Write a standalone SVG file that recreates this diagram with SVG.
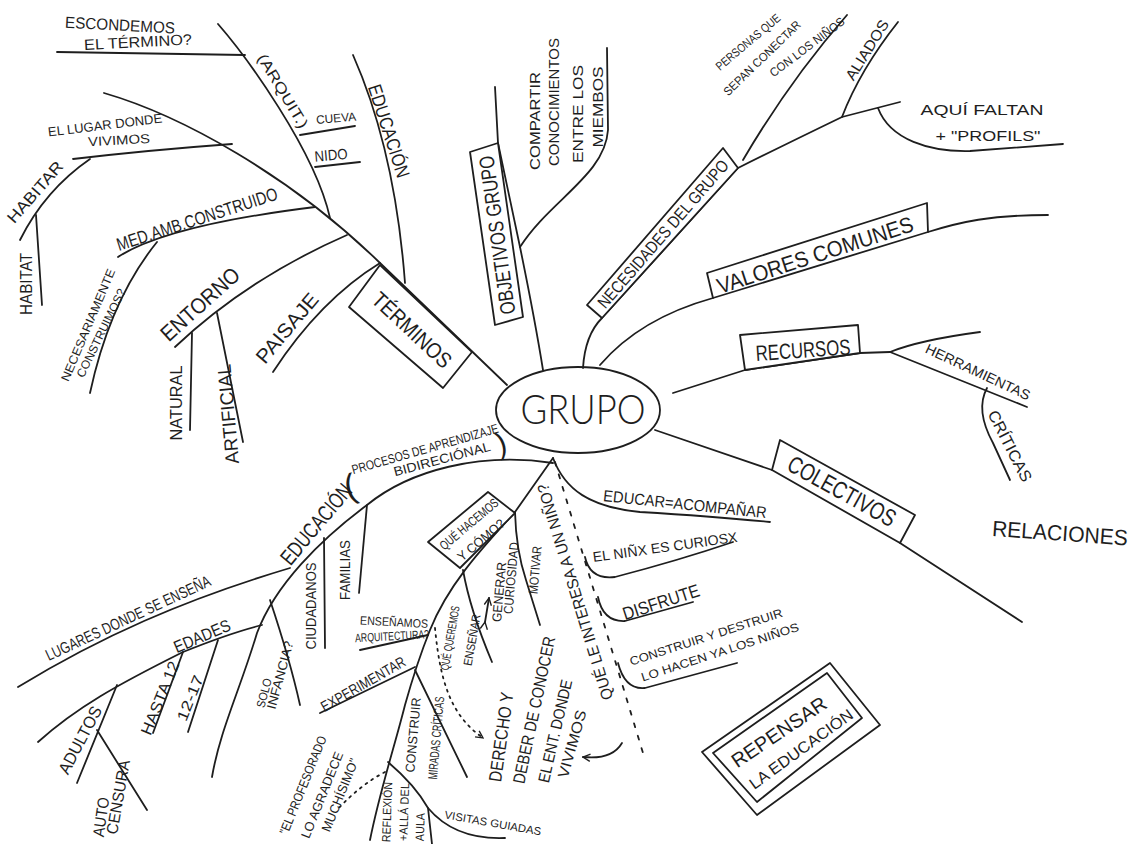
<svg xmlns="http://www.w3.org/2000/svg" width="1137" height="844" viewBox="0 0 1137 844">
<style>
.c{fill:none;stroke:#1e1e1e;stroke-width:1.8;stroke-linecap:round;stroke-linejoin:round}
.b{fill:#fff;stroke:#1e1e1e;stroke-width:1.8;stroke-linejoin:round}
.bn{fill:none;stroke:#1e1e1e;stroke-width:1.8;stroke-linejoin:round}
.d{stroke-dasharray:2 5}
.dd{stroke-dasharray:4 9}
text{font-family:"Liberation Sans","DejaVu Sans",sans-serif;fill:#1e1e1e;text-anchor:middle}
.lt{font-family:Lato,"Liberation Sans",sans-serif;font-weight:300}
</style>
<defs>
<marker id="ah" viewBox="0 0 10 10" refX="9" refY="5" markerWidth="9" markerHeight="9" orient="auto" markerUnits="userSpaceOnUse">
<path d="M1,1 L9,5 L1,9" fill="none" stroke="#1e1e1e" stroke-width="1.5"/>
</marker>
</defs>
<rect width="1137" height="844" fill="#fff"/>
<g id="connectors">
<path class="c" d="M104,93 C180,115 290,175 380,263 L507,385"/>
<path class="c" d="M218,24 C245,55 315,150 330,218"/>
<path class="c" d="M57,52 L245,55"/>
<path class="c" d="M300,135 L355,126"/>
<path class="c" d="M315,167 L360,162"/>
<path class="c" d="M73,159 Q150,150 232,144"/>
<path class="c" d="M90,159 Q45,190 20,240"/>
<path class="c" d="M36,215 L42,305"/>
<path class="c" d="M315,207 C250,215 160,230 118,257"/>
<path class="c" d="M157,242 Q110,300 90,393"/>
<path class="c" d="M347,235 C290,260 230,295 175,347"/>
<path class="c" d="M192,333 L190,430"/>
<path class="c" d="M217,313 L243,442"/>
<path class="c" d="M380,263 Q320,300 273,372"/>
<path class="c" d="M353,55 Q395,150 405,283"/>
<path class="c" d="M495,87 L498,143 L520,247 Q535,320 543,370"/>
<path class="c" d="M520,247 C550,200 605,175 608,130 L607,48"/>
<path class="c" d="M583,368 Q585,335 602,318 L738,168 Q780,147 842,117 L900,102"/>
<path class="c" d="M743,160 Q790,80 847,15"/>
<path class="c" d="M842,117 Q860,70 898,22"/>
<path class="c" d="M878,108 C890,140 930,152 970,151 L1063,144"/>
<path class="c" d="M600,365 C630,330 670,310 713,298"/>
<path class="c" d="M928,232 C960,222 990,215 1048,215"/>
<path class="c" d="M673,393 L745,370 L860,353 L890,352"/>
<path class="c" d="M890,352 Q920,340 980,332"/>
<path class="c" d="M890,352 L1027,407"/>
<path class="c" d="M987,388 Q975,410 993,443 L1010,480"/>
<path class="c" d="M655,430 L772,470"/>
<path class="c" d="M900,543 L1022,622"/>
<path class="c" d="M553,463 C480,452 410,470 367,505 C320,540 275,585 257,633 C240,690 220,730 212,777"/>
<path class="c" d="M18,687 C100,637 183,600 290,568"/>
<path class="c" d="M38,742 C77,707 117,685 183,652 Q230,633 262,625"/>
<path class="c" d="M270,600 Q290,660 300,705"/>
<path class="c" d="M324,538 L325,648"/>
<path class="c" d="M367,505 L359,593"/>
<path class="c" d="M183,652 L153,733"/>
<path class="c" d="M218,640 L188,732"/>
<path class="c" d="M117,685 L77,783"/>
<path class="c" d="M97,730 L147,810"/>
<path class="c" d="M553,458 L515,512 C490,540 450,580 430,630 C420,655 412,680 405,705 C395,745 380,790 370,840"/>
<path class="c" d="M320,713 L415,667"/>
<path class="c" d="M360,650 L428,635"/>
<path class="c" d="M463,570 Q470,610 492,662"/>
<path class="c" d="M515,512 Q516,550 526,580 L540,625"/>
<path class="c" d="M415,670 L467,777"/>
<path class="c" d="M388,762 Q415,785 428,808 L432,844"/>
<path class="c" d="M428,808 Q455,840 505,838"/>
<path class="c d" d="M385,772 Q360,785 337,810"/>
<path class="c d" d="M435,628 C440,680 450,715 483,738" marker-end="url(#ah)"/>
<path class="c" d="M622,743 Q612,760 583,757" marker-end="url(#ah)"/>
<path class="c" d="M485,622 L489,598" marker-end="url(#ah)" marker-start="url(#ah)"/>
<path class="c" d="M553,458 C565,490 590,507 640,512 C690,515 730,518 770,522"/>
<path class="c dd" d="M555,462 L643,753"/>
<path class="c" d="M585,557 Q590,580 615,577 Q680,560 733,542"/>
<path class="c" d="M598,597 Q603,622 625,621 L693,602"/>
<path class="c" d="M618,663 Q625,690 645,688 L737,663"/>
</g>
<g id="grupo"><ellipse class="bn" cx="578" cy="410" rx="82" ry="43"/><text class="lt" x="583" y="424" font-size="42" textLength="125" lengthAdjust="spacingAndGlyphs">GRUPO</text></g>
<g id="terminos"><polygon class="b" points="349,307 380,265 472,352 443,388"/><text transform="translate(412,330) rotate(43)" dy="0.35em" font-size="22" textLength="100" lengthAdjust="spacingAndGlyphs">TÉRMINOS</text></g>
<g id="escondemos"><text transform="translate(120,25) rotate(3)" dy="0.35em" font-size="16" textLength="110" lengthAdjust="spacingAndGlyphs">ESCONDEMOS</text><text transform="translate(138,42) rotate(-3)" dy="0.35em" font-size="15" textLength="108" lengthAdjust="spacingAndGlyphs">EL TÉRMINO?</text></g>
<g id="arquit"><text transform="translate(283,91) rotate(59)" dy="0.35em" font-size="15" textLength="84" lengthAdjust="spacingAndGlyphs">(ARQUIT.)</text></g>
<g id="cueva"><text transform="translate(336,118) rotate(-5)" dy="0.35em" font-size="12" textLength="40" lengthAdjust="spacingAndGlyphs">CUEVA</text></g>
<g id="nido"><text transform="translate(331,155) rotate(-5)" dy="0.35em" font-size="15" textLength="33" lengthAdjust="spacingAndGlyphs">NIDO</text></g>
<g id="educacion-top"><text transform="translate(389,131) rotate(72)" dy="0.35em" font-size="19" textLength="97" lengthAdjust="spacingAndGlyphs">EDUCACIÓN</text></g>
<g id="lugar"><text transform="translate(105,125) rotate(-7)" dy="0.35em" font-size="13" textLength="115" lengthAdjust="spacingAndGlyphs">EL LUGAR DONDE</text><text transform="translate(119,140) rotate(-3)" dy="0.35em" font-size="13" textLength="62" lengthAdjust="spacingAndGlyphs">VIVIMOS</text></g>
<g id="habitar"><text transform="translate(35,192) rotate(-49)" dy="0.35em" font-size="16" textLength="76" lengthAdjust="spacingAndGlyphs">HABITAR</text></g>
<g id="habitat"><text transform="translate(26,284) rotate(-90)" dy="0.35em" font-size="16" textLength="62" lengthAdjust="spacingAndGlyphs">HABITAT</text></g>
<g id="med"><text transform="translate(197,219) rotate(-18)" dy="0.35em" font-size="18" textLength="168" lengthAdjust="spacingAndGlyphs">MED.AMB.CONSTRUIDO</text></g>
<g id="necesariamente"><text transform="translate(88,325) rotate(-67)" dy="0.35em" font-size="12" textLength="121" lengthAdjust="spacingAndGlyphs">NECESARIAMENTE</text><text transform="translate(101,333) rotate(-64)" dy="0.35em" font-size="12" textLength="97" lengthAdjust="spacingAndGlyphs">CONSTRUIMOS?</text></g>
<g id="entorno"><text transform="translate(200,304) rotate(-42)" dy="0.35em" font-size="22" textLength="98" lengthAdjust="spacingAndGlyphs">ENTORNO</text></g>
<g id="natural"><text transform="translate(176,403) rotate(-90)" dy="0.35em" font-size="17" textLength="75" lengthAdjust="spacingAndGlyphs">NATURAL</text></g>
<g id="artificial"><text transform="translate(228,414) rotate(-95)" dy="0.35em" font-size="19" textLength="100" lengthAdjust="spacingAndGlyphs">ARTIFICIAL</text></g>
<g id="paisaje"><text transform="translate(287,328) rotate(-50)" dy="0.35em" font-size="20" textLength="85" lengthAdjust="spacingAndGlyphs">PAISAJE</text></g>
<g id="objetivos"><polygon class="b" points="470,152 498,143 523,317 495,325"/><text transform="translate(497,235) rotate(-98)" dy="0.35em" font-size="21" textLength="160" lengthAdjust="spacingAndGlyphs">OBJETIVOS GRUPO</text></g>
<g id="compartir"><text transform="translate(535,121) rotate(-90)" dy="0.35em" font-size="15" textLength="98" lengthAdjust="spacingAndGlyphs">COMPARTIR</text><text transform="translate(554,102) rotate(-90)" dy="0.35em" font-size="15" textLength="128" lengthAdjust="spacingAndGlyphs">CONOCIMIENTOS</text><text transform="translate(578,114) rotate(-90)" dy="0.35em" font-size="15" textLength="98" lengthAdjust="spacingAndGlyphs">ENTRE LOS</text><text transform="translate(598,107) rotate(-90)" dy="0.35em" font-size="15" textLength="81" lengthAdjust="spacingAndGlyphs">MIEMBOS</text></g>
<g id="necesidades"><polygon class="b" points="587,305 723,148 738,168 602,318"/><text transform="translate(663,234) rotate(-49)" dy="0.35em" font-size="17" textLength="190" lengthAdjust="spacingAndGlyphs">NECESIDADES DEL GRUPO</text></g>
<g id="personas"><text transform="translate(748,42) rotate(-40)" dy="0.35em" font-size="12" textLength="80" lengthAdjust="spacingAndGlyphs">PERSONAS QUE</text><text transform="translate(762,58) rotate(-44)" dy="0.35em" font-size="12" textLength="102" lengthAdjust="spacingAndGlyphs">SEPAN CONECTAR</text><text transform="translate(807,47) rotate(-37)" dy="0.35em" font-size="12" textLength="90" lengthAdjust="spacingAndGlyphs">CON LOS NIÑOS</text></g>
<g id="aliados"><text transform="translate(867,50) rotate(-58)" dy="0.35em" font-size="15" textLength="68" lengthAdjust="spacingAndGlyphs">ALIADOS</text></g>
<g id="aqui"><text transform="translate(982,110)" dy="0.35em" font-size="15" textLength="123" lengthAdjust="spacingAndGlyphs">AQUÍ FALTAN</text><text transform="translate(988,136)" dy="0.35em" font-size="15" textLength="105" lengthAdjust="spacingAndGlyphs">+ "PROFILS"</text></g>
<g id="valores"><polygon class="b" points="707,273 927,203 928,232 713,298"/><text transform="translate(815,255) rotate(-18)" dy="0.35em" font-size="22" textLength="205" lengthAdjust="spacingAndGlyphs">VALORES COMUNES</text></g>
<g id="recursos"><polygon class="b" points="740,335 858,325 860,353 745,370"/><text transform="translate(803,350) rotate(-4)" dy="0.35em" font-size="22" textLength="95" lengthAdjust="spacingAndGlyphs">RECURSOS</text></g>
<g id="herramientas"><text transform="translate(978,372) rotate(25)" dy="0.35em" font-size="14" textLength="114" lengthAdjust="spacingAndGlyphs">HERRAMIENTAS</text></g>
<g id="criticas"><text transform="translate(1010,446) rotate(63)" dy="0.35em" font-size="16" textLength="78" lengthAdjust="spacingAndGlyphs">CRÍTICAS</text></g>
<g id="colectivos"><polygon class="b" points="780,440 915,515 900,543 772,470"/><text transform="translate(842,491) rotate(29)" dy="0.35em" font-size="24" textLength="120" lengthAdjust="spacingAndGlyphs">COLECTIVOS</text></g>
<g id="relaciones"><text transform="translate(1060,533) rotate(4)" dy="0.35em" font-size="22" fill="#333" textLength="136" lengthAdjust="spacingAndGlyphs">RELACIONES</text></g>
<g id="procesos"><text transform="translate(350,486) rotate(-15)" dy="0.35em" font-size="34">(</text><text transform="translate(425,449) rotate(-16)" dy="0.35em" font-size="13" textLength="152" lengthAdjust="spacingAndGlyphs">PROCESOS DE APRENDIZAJE</text><text transform="translate(442,459) rotate(-15)" dy="0.35em" font-size="13" textLength="100" lengthAdjust="spacingAndGlyphs">BIDIRECIÓNAL</text><text transform="translate(501,443) rotate(-15)" dy="0.35em" font-size="30">)</text></g>
<g id="educacion-bot"><text transform="translate(316,524) rotate(-50)" dy="0.35em" font-size="22" textLength="98" lengthAdjust="spacingAndGlyphs">EDUCACIÓN</text></g>
<g id="familias"><text transform="translate(345,570) rotate(-90)" dy="0.35em" font-size="15" textLength="60" lengthAdjust="spacingAndGlyphs">FAMILIAS</text></g>
<g id="ciudadanos"><text transform="translate(311,606) rotate(-90)" dy="0.35em" font-size="14" textLength="87" lengthAdjust="spacingAndGlyphs">CIUDADANOS</text></g>
<g id="lugares"><text transform="translate(128,618) rotate(-25)" dy="0.35em" font-size="16" textLength="180" lengthAdjust="spacingAndGlyphs">LUGARES DONDE SE ENSEÑA</text></g>
<g id="edades"><text transform="translate(202,636) rotate(-23)" dy="0.35em" font-size="17" textLength="60" lengthAdjust="spacingAndGlyphs">EDADES</text></g>
<g id="adultos"><text transform="translate(80,740) rotate(-62)" dy="0.35em" font-size="17" textLength="74" lengthAdjust="spacingAndGlyphs">ADULTOS</text></g>
<g id="autocensura"><text transform="translate(101,817) rotate(-82)" dy="0.35em" font-size="16" textLength="40" lengthAdjust="spacingAndGlyphs">AUTO</text><text transform="translate(118,797) rotate(-80)" dy="0.35em" font-size="16" textLength="75" lengthAdjust="spacingAndGlyphs">CENSURA</text></g>
<g id="hasta12"><text transform="translate(160,698) rotate(-68)" dy="0.35em" font-size="16" textLength="78" lengthAdjust="spacingAndGlyphs">HASTA 12</text></g>
<g id="e1217"><text transform="translate(190,698) rotate(-68)" dy="0.35em" font-size="15" textLength="48" lengthAdjust="spacingAndGlyphs">12-17</text></g>
<g id="solo"><text transform="translate(264,693) rotate(-75)" dy="0.35em" font-size="12" textLength="30" lengthAdjust="spacingAndGlyphs">SOLO</text><text transform="translate(280,675) rotate(-75)" dy="0.35em" font-size="13" textLength="70" lengthAdjust="spacingAndGlyphs">INFANCIA?</text></g>
<g id="quehacemos"><polygon class="b" points="428,542 488,492 515,513 460,568"/><text transform="translate(469,524) rotate(-40)" dy="0.35em" font-size="13" textLength="72" lengthAdjust="spacingAndGlyphs">QUÉ HACEMOS</text><text transform="translate(481,540) rotate(-40)" dy="0.35em" font-size="13" textLength="57" lengthAdjust="spacingAndGlyphs">Y CÓMO?</text></g>
<g id="ensenamos"><text transform="translate(394,622) rotate(3)" dy="0.35em" font-size="12" textLength="68" lengthAdjust="spacingAndGlyphs">ENSEÑAMOS</text><text transform="translate(392,636) rotate(-3)" dy="0.35em" font-size="12" textLength="74" lengthAdjust="spacingAndGlyphs">ARQUITECTURA?</text></g>
<g id="experimentar"><text transform="translate(363,684) rotate(-30)" dy="0.35em" font-size="15" textLength="95" lengthAdjust="spacingAndGlyphs">EXPERIMENTAR</text></g>
<g id="queremos"><text transform="translate(450,638) rotate(-80)" dy="0.35em" font-size="12" textLength="65" lengthAdjust="spacingAndGlyphs">QUÉ QUEREMOS</text><text transform="translate(472,640) rotate(-80)" dy="0.35em" font-size="12" textLength="52" lengthAdjust="spacingAndGlyphs">ENSEÑAR</text></g>
<g id="generar"><text transform="translate(499,592) rotate(-85)" dy="0.35em" font-size="13" textLength="60" lengthAdjust="spacingAndGlyphs">GENERAR</text><text transform="translate(511,578) rotate(-85)" dy="0.35em" font-size="13" textLength="72" lengthAdjust="spacingAndGlyphs">CURIOSIDAD</text></g>
<g id="motivar"><text transform="translate(535,570) rotate(-85)" dy="0.35em" font-size="13" textLength="48" lengthAdjust="spacingAndGlyphs">MOTIVAR</text></g>
<g id="construir"><text transform="translate(413,735) rotate(-85)" dy="0.35em" font-size="13" textLength="75" lengthAdjust="spacingAndGlyphs">CONSTRUIR</text></g>
<g id="miradas"><text transform="translate(436,738) rotate(-85)" dy="0.35em" font-size="13" textLength="83" lengthAdjust="spacingAndGlyphs">MIRADAS CRÍTICAS</text></g>
<g id="reflexion"><text transform="translate(387,812) rotate(-88)" dy="0.35em" font-size="12" textLength="60" lengthAdjust="spacingAndGlyphs">REFLEXIÓN</text><text transform="translate(404,812) rotate(-88)" dy="0.35em" font-size="12" textLength="58" lengthAdjust="spacingAndGlyphs">+ALLÁ DEL</text><text transform="translate(420,827) rotate(-88)" dy="0.35em" font-size="12" textLength="28" lengthAdjust="spacingAndGlyphs">AULA</text></g>
<g id="visitas"><text transform="translate(493,823) rotate(10)" dy="0.35em" font-size="11" textLength="98" lengthAdjust="spacingAndGlyphs">VISITAS GUIADAS</text></g>
<g id="profesorado"><text transform="translate(303,785) rotate(-68)" dy="0.35em" font-size="13" textLength="105" lengthAdjust="spacingAndGlyphs">"EL PROFESORADO</text><text transform="translate(322,795) rotate(-68)" dy="0.35em" font-size="13" textLength="92" lengthAdjust="spacingAndGlyphs">LO AGRADECE</text><text transform="translate(340,795) rotate(-68)" dy="0.35em" font-size="13" textLength="78" lengthAdjust="spacingAndGlyphs">MUCHÍSIMO"</text></g>
<g id="derecho"><text transform="translate(501,737) rotate(-82)" dy="0.35em" font-size="18" textLength="90" lengthAdjust="spacingAndGlyphs">DERECHO Y</text><text transform="translate(534,710) rotate(-78)" dy="0.35em" font-size="17" textLength="150" lengthAdjust="spacingAndGlyphs">DEBER DE CONOCER</text><text transform="translate(555,731) rotate(-77)" dy="0.35em" font-size="16" textLength="105" lengthAdjust="spacingAndGlyphs">EL ENT. DONDE</text><text transform="translate(572,744) rotate(-74)" dy="0.35em" font-size="15" textLength="70" lengthAdjust="spacingAndGlyphs">VIVIMOS</text></g>
<g id="interesa"><text transform="translate(575,592) rotate(-107)" dy="0.35em" font-size="16" textLength="225" lengthAdjust="spacingAndGlyphs">QUÉ LE INTERESA A UN NIÑO?</text></g>
<g id="educar"><text transform="translate(685,504) rotate(6)" dy="0.35em" font-size="16" textLength="164" lengthAdjust="spacingAndGlyphs">EDUCAR=ACOMPAÑAR</text></g>
<g id="ninx"><text transform="translate(665,547) rotate(-8)" dy="0.35em" font-size="14" textLength="146" lengthAdjust="spacingAndGlyphs">EL NIÑX ES CURIOSX</text></g>
<g id="disfrute"><text transform="translate(661,602) rotate(-18)" dy="0.35em" font-size="18" textLength="80" lengthAdjust="spacingAndGlyphs">DISFRUTE</text></g>
<g id="construir-destruir"><text transform="translate(706,637) rotate(-18)" dy="0.35em" font-size="12" textLength="160" lengthAdjust="spacingAndGlyphs">CONSTRUIR Y DESTRUIR</text><text transform="translate(720,652) rotate(-18)" dy="0.35em" font-size="12" textLength="165" lengthAdjust="spacingAndGlyphs">LO HACEN YA LOS NIÑOS</text></g>
<g id="repensar"><polygon class="bn" points="702,752 830,663 880,725 757,815"/><polygon class="bn" points="713,753 827,673 862,718 757,802"/><text transform="translate(779,732) rotate(-34)" dy="0.35em" font-size="20" textLength="110" lengthAdjust="spacingAndGlyphs">REPENSAR</text><text transform="translate(801,749) rotate(-36)" dy="0.35em" font-size="16" textLength="124" lengthAdjust="spacingAndGlyphs">LA EDUCACIÓN</text></g>
</svg>
